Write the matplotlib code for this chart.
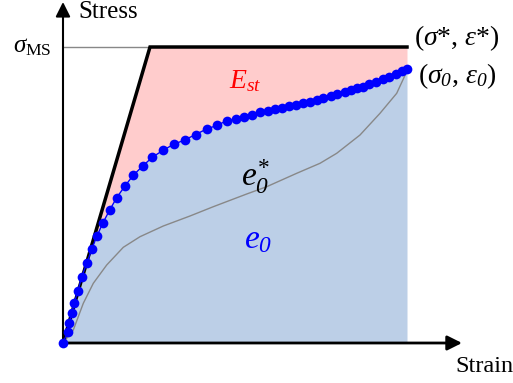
import numpy as np
import matplotlib
matplotlib.use("Agg")
import matplotlib.pyplot as plt

plt.rcParams['font.family'] = ['Liberation Serif', 'DejaVu Serif']
plt.rcParams['mathtext.fontset'] = 'custom'
plt.rcParams['mathtext.rm'] = 'Liberation Serif'
plt.rcParams['mathtext.it'] = 'Liberation Serif:italic'
plt.rcParams['mathtext.bf'] = 'Liberation Serif:bold'
plt.rcParams['mathtext.cal'] = 'Liberation Serif:italic'  # used for italic digits

# measured stress-strain curve (e0), arbitrary units
strain_0 = [0, 4.7, 6.3, 8.7, 11.3, 15, 18.7, 24, 28.7, 34, 39.7, 46.7, 53.7, 61.7,
            70.3, 79.7, 89.3, 100, 110.7, 121.7, 132.5, 143.7, 154.3, 163.7, 172.7,
            181, 189, 197, 204.7, 212.3, 219, 225.7, 233, 239.7, 247, 253.7, 260.3,
            267.7, 274.3, 281.7, 287.7, 293.7, 300.3, 306.3, 313, 319.7, 326.3, 333,
            339, 344]
stress_0 = [0, 11.3, 20.3, 29.7, 40.3, 52.3, 66.3, 80.3, 93.7, 107, 119.7, 133, 145.3,
            156.7, 167.7, 177, 185.7, 192.7, 198.7, 203, 208.5, 214, 217.7, 222.3,
            223.7, 226.3, 228, 230.7, 232.3, 233.7, 235.3, 236.7, 238.3, 240.3, 241.3,
            243, 244.7, 247, 249.3, 251.3, 253, 254.7, 256.3, 258.7, 260.7, 263.7,
            266.3, 269, 272, 274]

# reference curve (e0*)
strain_ref = [0, 10.3, 20.3, 30.3, 43.7, 60.3, 77, 100.3, 127, 150.3, 183.7,
              203.7, 233.7, 257, 273.7, 297, 317, 333.7, 344]
stress_ref = [0, 13, 39.7, 59.7, 78, 95.7, 106.3, 117, 127, 136.3, 149,
              156.3, 169.7, 179.7, 189.7, 208, 229.7, 249.7, 272]

# elastic / perfectly plastic bound
bound_strain = [0, 87, 344]
bound_stress = [0, 296, 296]
sigma_ms = 296

fig = plt.figure(figsize=(5.13, 3.83), dpi=100)
ax = fig.add_axes([0, 0, 1, 1])
ax.set_xlim(-63, 450)
ax.set_ylim(-40, 343)
ax.axis('off')

xs = np.linspace(0, 344, 600)
top = np.interp(xs, bound_strain, bound_stress)
low = np.interp(xs, strain_0, stress_0)
ax.fill_between(xs, low, top, color='#ffcccc', lw=0, zorder=1)
ax.fill_between(strain_0, 0, stress_0, color='#bccfe7', lw=0, zorder=1)

ax.plot([0, bound_strain[-1]], [sigma_ms, sigma_ms], color='#888888', lw=1, zorder=2)
ax.plot(strain_ref, stress_ref, color='#888888', lw=1, zorder=2)
ax.plot(bound_strain, bound_stress, color='black', lw=2.5, zorder=3,
        solid_joinstyle='miter')
ax.plot(strain_0, stress_0, color='blue', lw=1, marker='o', ms=7,
        markeredgewidth=0, zorder=4)

# axes with arrows
ax.annotate('', xy=(0, 341), xytext=(0, 0),
            arrowprops=dict(arrowstyle='-|>', color='black', lw=1.5,
                            mutation_scale=22, shrinkA=0, shrinkB=0))
ax.annotate('', xy=(399, 0), xytext=(-1, 0),
            arrowprops=dict(arrowstyle='-|>', color='black', lw=2,
                            mutation_scale=22, shrinkA=0, shrinkB=0))

ax.text(15, 331, 'Stress', fontsize=18, ha='left', va='center')
ax.text(392, -23, 'Strain', fontsize=17.5, ha='left', va='center')
ax.text(-11, 296, r'$\sigma_{\mathrm{MS}}$', fontsize=18, ha='right', va='center')
ax.text(351, 305, r'($\sigma$*, $\varepsilon$*)', fontsize=20, ha='left', va='center')
ax.text(355, 267, r'($\sigma_{\mathcal{0}}$, $\varepsilon_{\mathcal{0}}$)', fontsize=20,
        ha='left', va='center')
ax.text(182, 262, r'$E_{st}$', fontsize=20, color='red', ha='center', va='center')
ax.text(192, 166, r'$e_{\mathcal{0}}^{*}$', fontsize=24, color='black', ha='center', va='center')
ax.text(195, 103, r'$e_{\mathcal{0}}$', fontsize=24, color='blue', ha='center', va='center')

fig.savefig('out.png', dpi=100)
